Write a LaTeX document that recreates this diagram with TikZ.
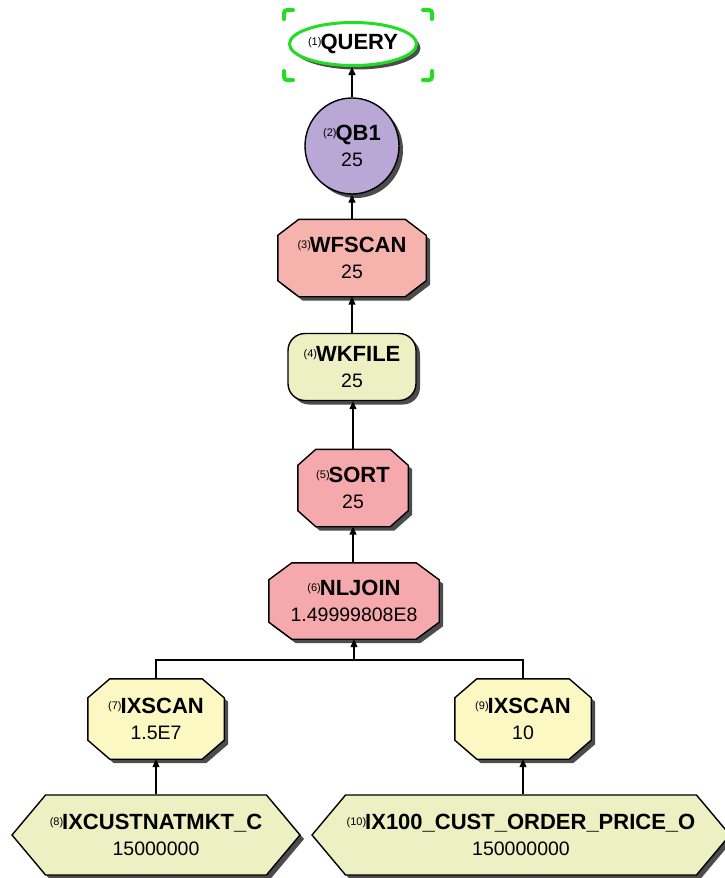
\documentclass[tikz,border=0pt]{standalone}
\usepackage{fontspec}
\setmainfont{Liberation Sans}
\usetikzlibrary{shapes.geometric,shapes.symbols,shadows,arrows.meta,calc}

\definecolor{lav}{HTML}{B9A8D6}
\definecolor{pinkop}{HTML}{F6B3AE}
\definecolor{pinkjoin}{HTML}{F5A9AC}
\definecolor{paleyg}{HTML}{ECF0C2}
\definecolor{paley}{HTML}{FBF8C3}
\definecolor{selgreen}{HTML}{22DD22}

\pgfdeclarelayer{shapes}
\pgfsetlayers{shapes,main}

% operator number in front of the name
\newcommand\opnum[1]{\raisebox{4pt}{\fontsize{11}{11}\selectfont(#1)}\kern-1pt}
% operator label: number, bold name, row estimate
\newcommand\oplabel[3]{\opnum{#1}\textbf{#2}\\{\fontsize{19.5}{19.5}\selectfont #3}}

% eight-sided outline around a rectangular node: name, corner cut x, corner cut y, style
\newcommand\octagon[4]{%
  \path[#4] ($(#1.north west)+(#2,0)$) -- ($(#1.north east)+(-#2,0)$)
    -- ($(#1.north east)+(0,#3)$) -- ($(#1.south east)+(0,-#3)$)
    -- ($(#1.south east)+(-#2,0)$) -- ($(#1.south west)+(#2,0)$)
    -- ($(#1.south west)+(0,-#3)$) -- ($(#1.north west)+(0,#3)$) -- cycle;}

\tikzset{
  shadowed/.style={drop shadow={shadow xshift=4pt,shadow yshift=-4pt,fill=black!70,opacity=1}},
  optext/.style={align=center,inner sep=0pt,font=\fontsize{22}{26}\selectfont},
  opnode/.style={optext,draw=black,line width=1.4pt,shadowed},
  octobox/.style={optext,rectangle},
  octoline/.style={draw=black,line width=1.4pt,shadowed},
  hexa/.style={opnode,signal,signal to=east and west,signal pointer angle=100},
  arr/.style={line width=1.3pt,-{Triangle[length=8pt,width=7pt]}},
  bus/.style={line width=1.3pt},
  selhandle/.style={selgreen,line width=4pt,rounded corners=3pt,line cap=round}
}

\begin{document}
\begin{tikzpicture}[x=1pt,y=-1pt]
\useasboundingbox (0,0) rectangle (725,878);

% plan operators
\node[opnode,ellipse,draw=selgreen,line width=3pt,fill=white,minimum width=125pt,minimum height=43pt]
  (query) at (353,44) {\opnum{1}\textbf{QUERY}};
\node[opnode,ellipse,fill=lav,minimum width=94pt,minimum height=96pt]
  (qb1) at (352,146) {\oplabel{2}{QB1}{25}};
\node[octobox,minimum width=148pt,minimum height=77pt]
  (wfscan) at (352,258) {\oplabel{3}{WFSCAN}{25}};
\node[opnode,rectangle,rounded corners=17pt,fill=paleyg,minimum width=128pt,minimum height=67pt]
  (wkfile) at (352,367) {\oplabel{4}{WKFILE}{25}};
\node[octobox,minimum width=110pt,minimum height=77pt]
  (sort) at (353,488) {\oplabel{5}{SORT}{25}};
\node[octobox,minimum width=170pt,minimum height=76pt]
  (nljoin) at (354,601) {\oplabel{6}{NLJOIN}{1.49999808E8}};
\node[octobox,minimum width=136pt,minimum height=80pt]
  (ix7) at (156,719) {\oplabel{7}{IXSCAN}{1.5E7}};
\node[octobox,minimum width=136pt,minimum height=80pt]
  (ix9) at (523,719) {\oplabel{9}{IXSCAN}{10}};
\node[hexa,fill=paleyg,minimum width=288pt,minimum height=80pt]
  (ix8) at (156,835) {\oplabel{8}{IXCUSTNATMKT\_C}{15000000}};
\node[hexa,fill=paleyg,minimum width=418pt,minimum height=80pt]
  (ix10) at (521,835) {\oplabel{10}{IX100\_CUST\_ORDER\_PRICE\_O}{150000000}};

% outlines of the eight-sided operators, behind their labels
\begin{pgfonlayer}{shapes}
  \octagon{wfscan}{21}{16}{octoline,fill=pinkop}
  \octagon{sort}{18}{16}{octoline,fill=pinkjoin}
  \octagon{nljoin}{23}{17}{octoline,fill=pinkjoin}
  \octagon{ix7}{22}{19}{octoline,fill=paley}
  \octagon{ix9}{22}{19}{octoline,fill=paley}
\end{pgfonlayer}

% selection handles around the root
\draw[selhandle] (284,19) -- (284,10) -- (293,10);
\draw[selhandle] (423,10) -- (432,10) -- (432,19);
\draw[selhandle] (284,71) -- (284,80) -- (293,80);
\draw[selhandle] (423,80) -- (432,80) -- (432,71);

% data flow
\draw[arr] (qb1.north) -- (qb1.north |- query.south);
\draw[arr] (wfscan.north) -- (wfscan.north |- qb1.south);
\draw[arr] (wkfile.north) -- (wkfile.north |- wfscan.south);
\draw[arr] (sort.north) -- (sort.north |- wkfile.south);
\draw[arr] (sort.south |- nljoin.north) -- (sort.south);
\coordinate (busline) at (0,660);
\draw[bus] (ix7.north) -- (ix7.north |- busline) -- (ix9.north |- busline) -- (ix9.north);
\draw[arr] (nljoin.south |- busline) -- (nljoin.south);
\draw[arr] (ix8.north) -- (ix8.north |- ix7.south);
\draw[arr] (ix9.north |- ix10.north) -- (ix9.south);
\end{tikzpicture}
\end{document}
